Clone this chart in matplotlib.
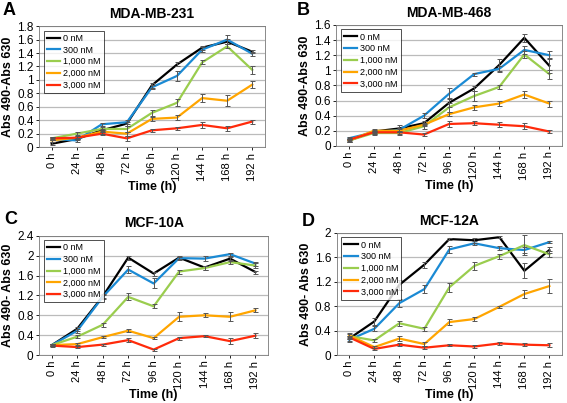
import matplotlib
matplotlib.use('Agg')
import matplotlib.pyplot as plt
import numpy as np

plt.rcParams['font.family'] = ['Liberation Sans', 'DejaVu Sans']

times = ['0 h', '24 h', '48 h', '72 h', '96 h', '120 h', '144 h', '168 h', '192 h']
doses = ['0 nM', '300 nM', '1,000 nM', '2,000 nM', '3,000 nM']
colors = ['#000000', '#1a8ad4', '#9acd4e', '#ffa500', '#ff2a0a']

# panel A: MDA-MB-231
a_vals = [
    [0.05, 0.12, 0.25, 0.35, 0.92, 1.23, 1.48, 1.57, 1.42],
    [0.12, 0.10, 0.34, 0.37, 0.89, 1.06, 1.45, 1.60, 1.39],
    [0.13, 0.20, 0.27, 0.27, 0.51, 0.66, 1.26, 1.50, 1.15],
    [0.10, 0.14, 0.23, 0.20, 0.42, 0.44, 0.73, 0.69, 0.93],
    [0.13, 0.14, 0.20, 0.13, 0.25, 0.28, 0.33, 0.28, 0.38],
]
a_err = [
    [0.02, 0.02, 0.02, 0.03, 0.04, 0.03, 0.03, 0.04, 0.02],
    [0.02, 0.02, 0.02, 0.03, 0.03, 0.07, 0.04, 0.07, 0.03],
    [0.02, 0.02, 0.03, 0.04, 0.04, 0.05, 0.03, 0.03, 0.06],
    [0.02, 0.02, 0.03, 0.03, 0.03, 0.04, 0.06, 0.08, 0.05],
    [0.02, 0.02, 0.02, 0.04, 0.02, 0.02, 0.04, 0.04, 0.03],
]

# panel B: MDA-MB-468
b_vals = [
    [0.07, 0.19, 0.23, 0.30, 0.57, 0.76, 1.07, 1.43, 1.06],
    [0.10, 0.18, 0.21, 0.40, 0.69, 0.95, 1.02, 1.27, 1.20],
    [0.07, 0.17, 0.17, 0.26, 0.51, 0.66, 0.78, 1.21, 0.95],
    [0.07, 0.20, 0.20, 0.28, 0.42, 0.51, 0.56, 0.68, 0.56],
    [0.08, 0.18, 0.18, 0.15, 0.29, 0.30, 0.28, 0.26, 0.19],
]
b_err = [
    [0.02, 0.02, 0.05, 0.03, 0.06, 0.03, 0.08, 0.05, 0.10],
    [0.02, 0.02, 0.03, 0.03, 0.07, 0.02, 0.04, 0.05, 0.05],
    [0.02, 0.02, 0.02, 0.03, 0.06, 0.06, 0.03, 0.05, 0.06],
    [0.02, 0.02, 0.02, 0.02, 0.03, 0.03, 0.03, 0.04, 0.04],
    [0.02, 0.02, 0.02, 0.02, 0.04, 0.03, 0.03, 0.04, 0.02],
]

# panel C: MCF-10A
c_vals = [
    [0.20, 0.53, 1.18, 1.96, 1.64, 1.96, 1.76, 1.94, 1.67],
    [0.20, 0.49, 1.17, 1.72, 1.44, 1.95, 1.94, 2.03, 1.84],
    [0.20, 0.37, 0.61, 1.17, 0.98, 1.68, 1.75, 1.87, 1.80],
    [0.20, 0.22, 0.36, 0.49, 0.34, 0.77, 0.80, 0.77, 0.90],
    [0.19, 0.16, 0.21, 0.30, 0.11, 0.34, 0.38, 0.28, 0.39],
]
c_err = [
    [0.02, 0.04, 0.04, 0.04, 0.04, 0.03, 0.04, 0.04, 0.03],
    [0.02, 0.04, 0.04, 0.07, 0.10, 0.03, 0.05, 0.03, 0.04],
    [0.02, 0.03, 0.04, 0.07, 0.04, 0.04, 0.04, 0.04, 0.05],
    [0.02, 0.02, 0.02, 0.03, 0.02, 0.09, 0.04, 0.09, 0.04],
    [0.02, 0.02, 0.02, 0.04, 0.02, 0.03, 0.02, 0.06, 0.05],
]

# panel D: MCF-12A
d_vals = [
    [0.27, 0.55, 1.15, 1.48, 1.90, 1.88, 1.93, 1.38, 1.72],
    [0.25, 0.43, 0.85, 1.08, 1.73, 1.83, 1.75, 1.72, 1.85],
    [0.31, 0.24, 0.52, 0.43, 1.11, 1.46, 1.62, 1.80, 1.65],
    [0.32, 0.13, 0.27, 0.18, 0.54, 0.59, 0.79, 1.00, 1.13],
    [0.29, 0.10, 0.17, 0.12, 0.16, 0.14, 0.19, 0.17, 0.16],
]
d_err = [
    [0.04, 0.05, 0.08, 0.05, 0.02, 0.04, 0.02, 0.12, 0.05],
    [0.04, 0.04, 0.06, 0.06, 0.06, 0.03, 0.03, 0.05, 0.02],
    [0.04, 0.03, 0.04, 0.03, 0.07, 0.07, 0.04, 0.16, 0.05],
    [0.04, 0.02, 0.04, 0.03, 0.05, 0.04, 0.02, 0.07, 0.12],
    [0.03, 0.02, 0.03, 0.02, 0.02, 0.02, 0.02, 0.03, 0.03],
]

panels = [
    ('A', 'MDA-MB-231', a_vals, a_err, 1.8, 0.2, 'Abs 490-Abs 630'),
    ('B', 'MDA-MB-468', b_vals, b_err, 1.6, 0.2, 'Abs 490-Abs 630'),
    ('C', 'MCF-10A', c_vals, c_err, 2.4, 0.4, 'Abs 490- Abs 630'),
    ('D', 'MCF-12A', d_vals, d_err, 2.0, 0.4, 'Abs 490- Abs 630'),
]
# axes rectangles in figure fraction (left, bottom, width, height)
rects = [
    [0.069, 0.635, 0.398, 0.300],
    [0.593, 0.638, 0.398, 0.300],
    [0.069, 0.119, 0.404, 0.296],
    [0.594, 0.119, 0.397, 0.303],
]
letter_pos = [(0.005, 0.975), (0.523, 0.975), (0.008, 0.455), (0.533, 0.450)]

fig = plt.figure(figsize=(5.67, 4.03), dpi=100)
x = np.arange(len(times))

for (letter, title, vals, errs, ymax, step, ylab), r, lp in zip(panels, rects, letter_pos):
    ax = fig.add_axes(r)
    for v, e, col, lab in zip(vals, errs, colors, doses):
        ax.errorbar(x, v, yerr=e, fmt='none', ecolor='#555555',
                    elinewidth=0.7, capsize=1.8, capthick=0.7, zorder=3)
        ax.plot(x, v, color=col, lw=1.6, label=lab, zorder=2)
    ax.set_xlim(-0.5, len(times) - 0.5)
    ax.set_ylim(0, ymax)
    ticks = np.arange(0, ymax + step / 2, step)
    ax.set_yticks(ticks)
    ax.set_yticklabels(['{:g}'.format(round(t, 1)) for t in ticks], fontsize=8.5)
    ax.set_xticks(x)
    ax.set_xticklabels(times, rotation=90, fontsize=8)
    ax.yaxis.grid(True, color='#bbbbbb', lw=0.9)
    ax.set_axisbelow(True)
    ax.tick_params(length=2, width=0.6, pad=2)
    for s in ax.spines.values():
        s.set_color('#777777')
        s.set_linewidth(0.6)
    ax.set_ylabel(ylab, fontsize=9, fontweight='bold', labelpad=2)
    ax.set_xlabel('Time (h)', fontsize=9, fontweight='bold', labelpad=0)
    ax.set_title(title, fontsize=10, fontweight='bold', pad=6)
    leg = ax.legend(loc='upper left', fontsize=6.5, frameon=True, fancybox=False,
                    handlelength=1.5, handletextpad=0.3, labelspacing=0.3,
                    borderpad=0.35, borderaxespad=0.5)
    leg.get_frame().set_edgecolor('black')
    leg.get_frame().set_linewidth(0.6)
    fig.text(lp[0], lp[1], letter, fontsize=13, fontweight='bold', va='center')

plt.savefig('out.png', dpi=100)
